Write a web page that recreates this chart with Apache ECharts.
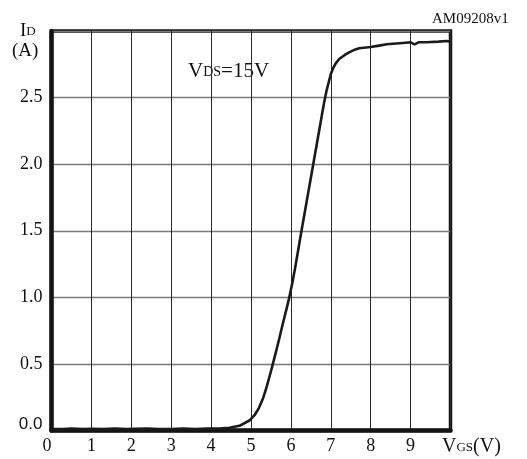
<!DOCTYPE html>
<html>
<head>
<meta charset="utf-8">
<script src="https://cdn.jsdelivr.net/npm/echarts@6/dist/echarts.min.js"></script>
<style>
  html, body { margin: 0; padding: 0; background: #fff; }
  #chart { width: 527px; height: 459px; }
</style>
</head>
<body>
<div id="chart"></div>
<script>
// Transfer characteristic: drain current vs gate-source voltage at VDS = 15 V
var vgs = [0.0, 0.3, 0.5, 0.8, 1.0, 1.3, 1.6, 1.9, 2.1, 2.4, 2.7, 3.0, 3.3, 3.6, 3.9, 4.2,
           4.46, 4.71, 4.96, 5.1, 5.2, 5.3, 5.4, 5.5, 5.6, 5.7, 5.8, 5.9, 5.96, 6.03, 6.1,
           6.26, 6.56, 6.83, 6.9, 6.96, 7.0, 7.05, 7.12, 7.21, 7.35, 7.46, 7.6, 7.71, 8.0,
           8.21, 8.4, 8.8, 9.0, 9.1, 9.2, 9.4, 9.7, 9.9, 10.0];
var idA = [0.01, 0.01, 0.015, 0.01, 0.012, 0.01, 0.015, 0.01, 0.012, 0.015, 0.01, 0.01, 0.015, 0.01, 0.015, 0.015,
           0.02, 0.035, 0.075, 0.12, 0.17, 0.24, 0.335, 0.445, 0.56, 0.68, 0.805, 0.925, 1.0, 1.1, 1.21,
           1.49, 2.0, 2.46, 2.56, 2.63, 2.675, 2.715, 2.755, 2.79, 2.82, 2.84, 2.86, 2.87, 2.88,
           2.89, 2.9, 2.91, 2.915, 2.9, 2.915, 2.915, 2.92, 2.925, 2.92];
var xTicks = ['0', '1', '2', '3', '4', '5', '6', '7', '8', '9'];
var yTicks = ['0.0', '0.5', '1.0', '1.5', '2.0', '2.5'];

var serif = '"Liberation Serif", "DejaVu Serif", serif';
var sans = 'Liberation Sans';

var chart = echarts.init(document.getElementById('chart'), null, { renderer: 'canvas' });

var points = vgs.map(function (v, i) { return [v, idA[i]]; });

chart.setOption({
  animation: false,
  backgroundColor: '#ffffff',
  grid: {
    left: 51.5, top: 31, width: 399, height: 399.5,
    show: true, borderColor: '#141414', borderWidth: 3.5, backgroundColor: 'transparent'
  },
  xAxis: {
    type: 'value', min: 0, max: 10, interval: 1,
    axisLine: { show: true, onZero: false, lineStyle: { color: '#141414', width: 4.5 } },
    axisTick: { show: false },
    splitLine: { show: true, lineStyle: { color: '#2a2a2a', width: 1 } },
    axisLabel: {
      margin: 7, fontFamily: serif, fontSize: 18, color: '#111',
      alignMinLabel: 'right',
      formatter: function (v) {
        var i = Math.round(v);
        return i < xTicks.length ? xTicks[i] : '';
      }
    }
  },
  yAxis: {
    type: 'value', min: 0, max: 3, interval: 0.5,
    axisLine: { show: true, onZero: false, lineStyle: { color: '#141414', width: 4.5 } },
    axisTick: { show: false },
    splitLine: { show: true, lineStyle: { color: '#7a7a7a', width: 1.3 } },
    axisLabel: {
      margin: 9, fontFamily: serif, fontSize: 18, color: '#111',
      formatter: function (v) {
        var i = Math.round(v / 0.5);
        if (i >= yTicks.length) return '';
        return i === 0 ? '{z|' + yTicks[0] + '}' : yTicks[i];
      },
      rich: {
        z: { fontFamily: sans, fontSize: 17, color: '#111', padding: [0, 0, 13, 0] }
      }
    }
  },
  series: [{
    type: 'line',
    data: points,
    showSymbol: false,
    smooth: false,
    clip: false,
    lineStyle: { color: '#1a1a1a', width: 2.6, join: 'round' }
  }],
  graphic: [
    {
      type: 'text', left: 432, top: 12,
      style: { text: 'AM09208v1', font: '15px ' + serif, fill: '#111' }
    },
    {
      type: 'text', left: 20, top: 22,
      style: {
        text: '{a|I}{b|D}',
        rich: {
          a: { fontFamily: serif, fontSize: 19, lineHeight: 19, verticalAlign: 'bottom', fill: '#111' },
          b: { fontFamily: serif, fontSize: 13, lineHeight: 13, verticalAlign: 'bottom', padding: [0, 0, 3, 0], fill: '#111' }
        }
      }
    },
    {
      type: 'text', left: 12, top: 42,
      style: { text: '(A)', font: '19px ' + serif, fill: '#111' }
    },
    {
      type: 'text', left: 188, top: 61,
      style: {
        text: '{a|V}{b|DS}{a|=15V}',
        rich: {
          a: { fontFamily: serif, fontSize: 21, lineHeight: 21, verticalAlign: 'bottom', fill: '#111' },
          b: { fontFamily: serif, fontSize: 14, lineHeight: 14, verticalAlign: 'bottom', padding: [0, 0, 3, 0], fill: '#111' }
        }
      }
    },
    {
      type: 'text', left: 442, top: 437,
      style: {
        text: '{a|V}{b|GS}{a|(V)}',
        rich: {
          a: { fontFamily: serif, fontSize: 20, lineHeight: 20, verticalAlign: 'bottom', fill: '#111' },
          b: { fontFamily: serif, fontSize: 13, lineHeight: 13, verticalAlign: 'bottom', padding: [0, 0, 3, 0], fill: '#111' }
        }
      }
    }
  ]
});
</script>
</body>
</html>
